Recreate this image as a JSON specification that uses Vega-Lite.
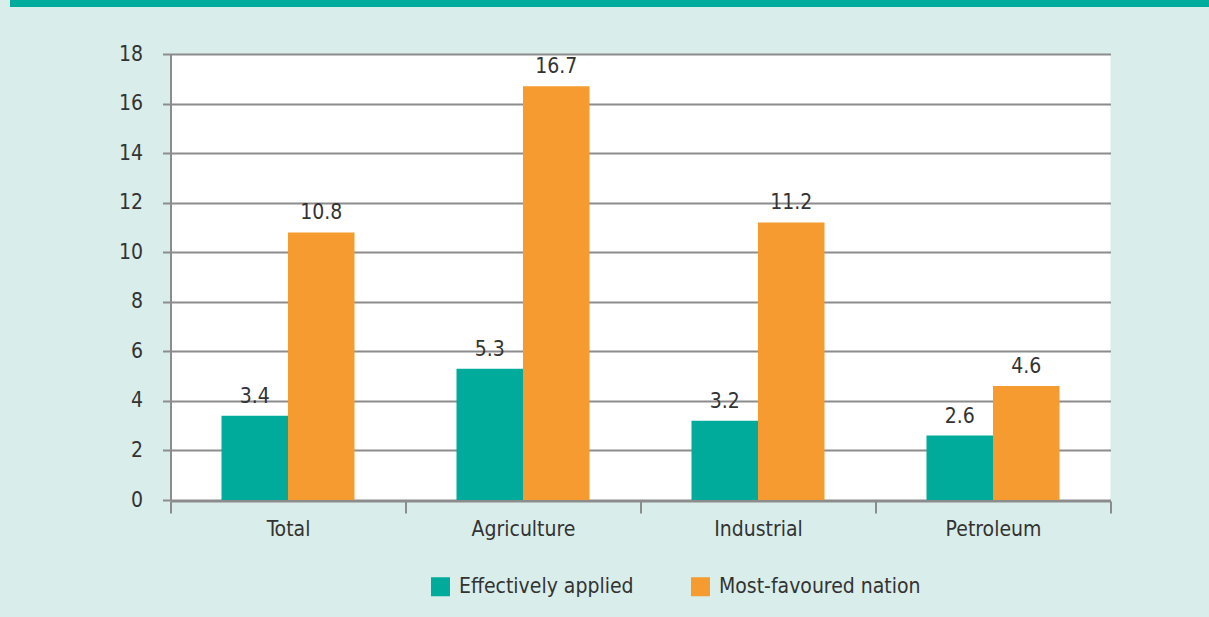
{
  "$schema": "https://vega.github.io/schema/vega-lite/v6.json",
  "padding": {"left": 10, "top": 0, "right": 0, "bottom": 73},
  "background": "#d9edea",
  "spacing": 36,
  "center": true,
  "config": {
    "font": "DejaVu Sans Condensed, sans-serif",
    "axis": {"labelFont": "DejaVu Sans Condensed, sans-serif", "labelColor": "#333333", "labelFontSize": 21},
    "legend": {"labelFont": "DejaVu Sans Condensed, sans-serif", "labelColor": "#333333", "labelFontSize": 21}
  },
  "vconcat": [
    {
      "width": 1262,
      "height": 7,
      "view": {"fill": "#00ab9c", "stroke": null},
      "data": {"values": []},
      "mark": {"type": "point"}
    },
    {
      "width": 940,
      "height": 446,
      "view": {"fill": "#ffffff", "stroke": null},
      "data": {
        "values": [
          {"group": "Total", "measure": "Effectively applied", "value": 3.4},
          {"group": "Total", "measure": "Most-favoured nation", "value": 10.8},
          {"group": "Agriculture", "measure": "Effectively applied", "value": 5.3},
          {"group": "Agriculture", "measure": "Most-favoured nation", "value": 16.7},
          {"group": "Industrial", "measure": "Effectively applied", "value": 3.2},
          {"group": "Industrial", "measure": "Most-favoured nation", "value": 11.2},
          {"group": "Petroleum", "measure": "Effectively applied", "value": 2.6},
          {"group": "Petroleum", "measure": "Most-favoured nation", "value": 4.6}
        ]
      },
      "encoding": {
        "x": {
          "field": "group",
          "type": "nominal",
          "sort": ["Total", "Agriculture", "Industrial", "Petroleum"],
          "scale": {"paddingInner": 0, "paddingOuter": 0},
          "axis": {
            "title": null,
            "labelAngle": 0,
            "tickBand": "extent",
            "tickSize": 12,
            "tickColor": "#8c8c8c",
            "tickWidth": 2,
            "domainColor": "#8c8c8c",
            "domainWidth": 2,
            "offset": 1,
            "labelPadding": 5,
            "grid": false
          }
        },
        "xOffset": {
          "field": "measure",
          "type": "nominal",
          "sort": ["Effectively applied", "Most-favoured nation"],
          "scale": {"paddingInner": 0, "paddingOuter": 0.767}
        },
        "y": {
          "field": "value",
          "type": "quantitative",
          "scale": {"domain": [0, 18], "nice": false},
          "axis": {
            "title": null,
            "values": [0, 2, 4, 6, 8, 10, 12, 14, 16, 18],
            "tickSize": 8,
            "tickColor": "#8c8c8c",
            "tickWidth": 2,
            "domainColor": "#8c8c8c",
            "domainWidth": 2,
            "gridColor": "#8c8c8c",
            "gridWidth": 2,
            "labelPadding": 20
          }
        }
      },
      "layer": [
        {
          "mark": {"type": "bar"},
          "encoding": {
            "color": {
              "field": "measure",
              "type": "nominal",
              "sort": ["Effectively applied", "Most-favoured nation"],
              "scale": {"domain": ["Effectively applied", "Most-favoured nation"], "range": ["#00ab9c", "#f59b2f"]},
              "legend": {
                "title": null,
                "orient": "none",
                "direction": "horizontal",
                "legendX": 420,
                "legendY": 576,
                "padding": 0,
                "symbolType": "square",
                "symbolSize": 361,
                "symbolStrokeWidth": 0,
                "symbolOpacity": 1,
                "labelOffset": 8,
                "labelLimit": 0,
                "columnPadding": 56
              }
            }
          }
        },
        {
          "mark": {"type": "text", "baseline": "alphabetic", "dy": -13, "fontSize": 21, "color": "#333333"},
          "encoding": {
            "text": {"field": "value", "type": "quantitative", "format": ".1f"}
          }
        }
      ]
    }
  ]
}
